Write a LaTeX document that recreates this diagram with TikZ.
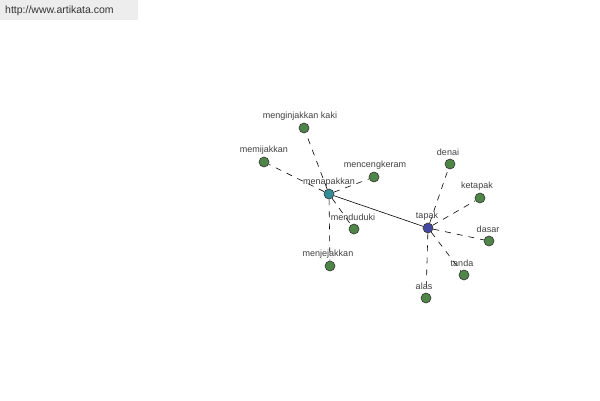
\documentclass[tikz,border=0pt]{standalone}
\usepackage{fontspec}
\setmainfont{Liberation Sans}
\begin{document}
\begin{tikzpicture}[x=1pt,y=-1pt,
  leafc/.style={circle,draw=black!80,fill={rgb,255:red,78;green,134;blue,72},line width=0.6pt,minimum size=10pt,inner sep=0pt},
  hubA/.style={circle,draw=black!80,fill={rgb,255:red,52;green,140;blue,150},line width=0.6pt,minimum size=10pt,inner sep=0pt},
  hubB/.style={circle,draw=black!80,fill={rgb,255:red,70;green,72;blue,160},line width=0.6pt,minimum size=10pt,inner sep=0pt},
  lbl/.style={font=\fontsize{9}{10}\selectfont,text=black!75,inner sep=0pt},
  dedge/.style={draw=black,line width=0.6pt,dash pattern=on 6pt off 6pt},
  sedge/.style={draw=black,line width=0.6pt}]
\useasboundingbox (0,0) rectangle (600,400);
\fill[white] (0,0) rectangle (600,400);
\fill[black!7] (0,0) rectangle (138,20);
\node[anchor=west,inner sep=0pt,font=\fontsize{10.5}{12}\selectfont,text=black!80] (wm) at (5,11) {http://www.artikata.com};
% nodes
\node[hubA] (menapakkan) at (329,194) {};
\node[hubB] (tapak) at (428,228) {};
\node[leafc] (kaki) at (304,128) {};
\node[leafc] (memijakkan) at (264,162) {};
\node[leafc] (mencengkeram) at (374,177) {};
\node[leafc] (menduduki) at (354,229) {};
\node[leafc] (menjejakkan) at (330,266) {};
\node[leafc] (denai) at (450,164) {};
\node[leafc] (ketapak) at (480,198) {};
\node[leafc] (dasar) at (489,241) {};
\node[leafc] (tanda) at (464,275) {};
\node[leafc] (alas) at (426,298) {};
% edges
\path[sedge] (menapakkan) -- (tapak);
\foreach \n in {kaki,memijakkan,mencengkeram,menduduki,menjejakkan}
  \path[dedge] (menapakkan) -- (\n);
\foreach \n in {denai,ketapak,dasar,tanda,alas}
  \path[dedge] (tapak) -- (\n);
% labels
\node[lbl] (lmenapakkan) at (329,182) {menapakkan};
\node[lbl] (ltapak) at (427,216) {tapak};
\node[lbl] (lkaki) at (300,116) {menginjakkan kaki};
\node[lbl] (lmemijakkan) at (264,150) {memijakkan};
\node[lbl] (lmencengkeram) at (375,165) {mencengkeram};
\node[lbl] (lmenduduki) at (353,217) {menduduki};
\node[lbl] (lmenjejakkan) at (328,254) {menjejakkan};
\node[lbl] (ldenai) at (448,152) {denai};
\node[lbl] (lketapak) at (477,186) {ketapak};
\node[lbl] (ldasar) at (488,229) {dasar};
\node[lbl] (ltanda) at (462,263) {tanda};
\node[lbl] (lalas) at (424,286) {alas};
\end{tikzpicture}
\end{document}
